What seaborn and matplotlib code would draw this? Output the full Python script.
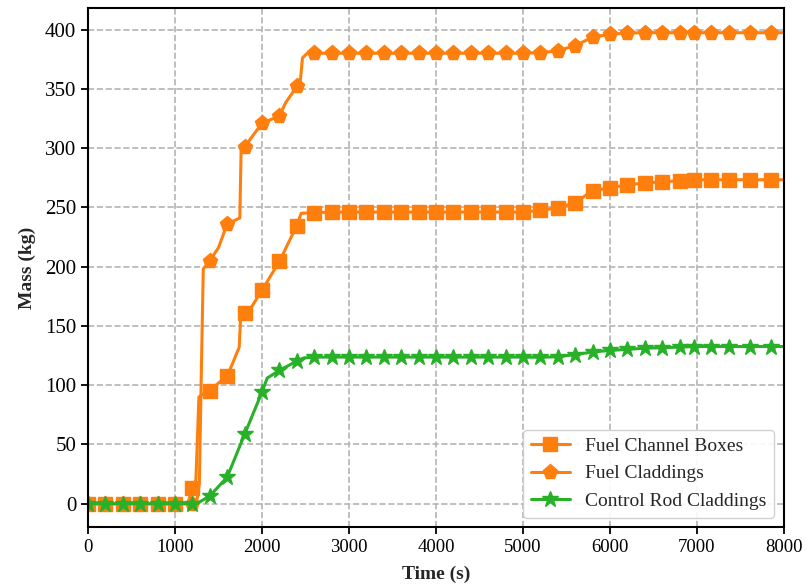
import numpy as np
import pandas as pd
import matplotlib
matplotlib.use("Agg")
import matplotlib.pyplot as plt
import seaborn as sns

# ---- data ----
marker_time = [0, 200, 400, 600, 800, 1000, 1200, 1400, 1600, 1800, 2000, 2200,
               2400, 2600, 2800, 3000, 3200, 3400, 3600, 3800, 4000, 4200, 4400,
               4600, 4800, 5000, 5200, 5400, 5600, 5800, 6000, 6200, 6400, 6600,
               6800, 6960, 7160, 7370, 7610, 7850]

boxes_mass = [0, 0, 0, 0, 0, 0, 13, 95.5, 108, 161, 180, 204.5, 234.5, 245.5,
              246, 246, 246, 246, 246, 246, 246, 246, 246, 246, 246, 246,
              247.5, 249.5, 254, 264, 266.5, 269, 270.5, 271.5, 272.5,
              273.3, 273.3, 273.3, 273.3, 273.3]
boxes_knot_time = [1150, 1240, 1275, 1330, 1660, 1738, 1755, 1880, 2450, 8000]
boxes_knot_mass = [1, 20, 90, 93, 118, 132, 158, 166, 245, 273.3]

clad_mass = [0, 0, 0, 0, 0, 0, 0, 205, 236, 301, 321, 327, 352, 380,
             380, 380, 380, 380, 380, 380, 380, 380, 380, 380, 380, 380,
             380.5, 382, 386.5, 393.5, 396, 397, 397.3, 397.3, 397.3,
             397.3, 397.3, 397.3, 397.3, 397.3]
clad_knot_time = [1250, 1280, 1300, 1325, 1500, 1700, 1745, 1760, 2270, 2440, 2465, 2520, 8000]
clad_knot_mass = [2, 17, 100, 198, 216, 239.5, 241, 298, 338, 356, 376, 380, 397.3]

rod_mass = [0, 0, 0, 0, 0, 0, 0, 6.5, 22.5, 58.5, 94.2, 112.5, 120.3, 123.7,
            123.7, 123.7, 123.7, 123.7, 123.7, 123.7, 123.7, 123.7, 123.7, 123.7, 123.7, 123.7,
            123.5, 124, 125.8, 128, 129.3, 130.2, 131.2, 131.6, 132.1,
            132.6, 132.6, 132.6, 132.6, 132.6]
rod_knot_time = [1260, 2060, 2480, 8000]
rod_knot_mass = [0.5, 106, 123, 132.6]

labels = ["Fuel Channel Boxes", "Fuel Claddings", "Control Rod Claddings"]
x_ticks = [0, 1000, 2000, 3000, 4000, 5000, 6000, 7000, 8000]
y_ticks = [0, 50, 100, 150, 200, 250, 300, 350, 400]


def series_frame(mt, mv, kt, kv):
    df = pd.DataFrame({
        "t": list(mt) + list(kt),
        "m": list(mv) + list(kv),
        "mark": [True] * len(mt) + [False] * len(kt),
    })
    return df.sort_values("t").reset_index(drop=True)


sns.set_style("ticks")
plt.rcParams["font.family"] = ["Liberation Serif", "DejaVu Serif"]

fig = plt.figure(figsize=(8.11, 5.85), dpi=100)
ax = fig.add_axes([0.1085, 0.0986, 0.8582, 0.8872])

orange = "#ff7f0e"
green = "#29b029"
specs = [
    (series_frame(marker_time, boxes_mass, boxes_knot_time, boxes_knot_mass), orange, "s", 10),
    (series_frame(marker_time, clad_mass, clad_knot_time, clad_knot_mass), orange, "p", 11),
    (series_frame(marker_time, rod_mass, rod_knot_time, rod_knot_mass), green, "*", 12),
]

for (df, col, mk, ms), lab in zip(specs, labels):
    sns.lineplot(data=df, x="t", y="m", ax=ax, color=col, marker=mk,
                 markersize=ms, mec=col, mew=1, linewidth=2.2,
                 markevery=df["mark"].tolist(), label=lab,
                 estimator=None, sort=False)

ax.set_xlim(0, 8000)
ax.set_ylim(-19.9, 417.9)
ax.set_xticks(x_ticks)
ax.set_yticks(y_ticks)
ax.grid(True, linestyle="--", color="#b4b4b4", linewidth=1.2)
ax.set_axisbelow(True)
for s in ax.spines.values():
    s.set_color("black")
    s.set_linewidth(1.5)
ax.tick_params(direction="out", length=5, width=1.3, colors="black")
ax.tick_params(axis="x", labelsize=13.5)
ax.tick_params(axis="y", labelsize=15)

ax.set_xlabel("Time (s)", fontsize=14, fontweight="bold", labelpad=7)
ax.set_ylabel("Mass (kg)", fontsize=14, fontweight="bold", labelpad=6)

leg = ax.legend(loc="lower right", fontsize=14, frameon=True, fancybox=True,
                edgecolor="#cccccc", framealpha=0.9, borderaxespad=0.5)

fig.savefig("out.png", dpi=100)
